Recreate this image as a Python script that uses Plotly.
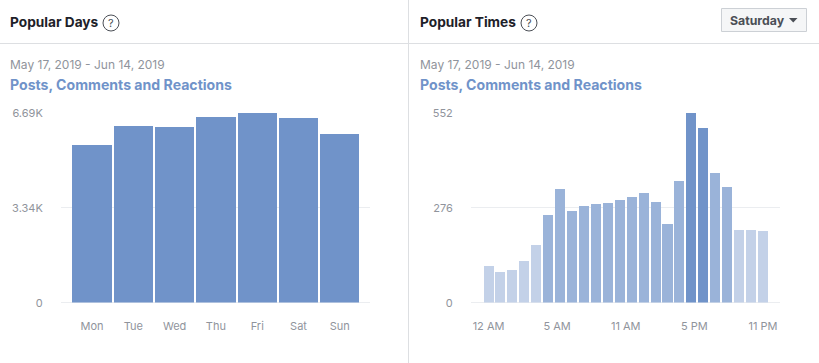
import plotly.graph_objects as go

W, H = 819, 363

days = ["Mon", "Tue", "Wed", "Thu", "Fri", "Sat", "Sun"]
day_values = [5550, 6240, 6190, 6540, 6690, 6530, 5960]
day_tick_vals = [0, 3340, 6690]
day_tick_text = ["0", "3.34K", "6.69K"]

hours = list(range(24))
hour_values = [106.5, 89, 95, 122, 168.5, 257, 331, 266, 283, 288, 290.5, 300,
               309, 320.5, 292.5, 230.5, 355, 552, 508, 379, 336, 211, 212, 209]
hour_tick_vals = [0, 5.75, 11.5, 17.25, 23]
hour_tick_text = ["12 AM", "5 AM", "11 AM", "5 PM", "11 PM"]
hour_y_tick_vals = [0, 276, 552]
hour_y_tick_text = ["0", "276", "552"]

DARK = "#7093c9"
MID = "#9ab3d9"
LIGHT = "#c3d1e8"
FONT = "Inter, Roboto, sans-serif"
GRID = "#ebedf0"
TICK = "#90949c"


def px(x):
    return x / W


def py(y):
    return 1 - y / H


def hour_color(v):
    share = v / max(hour_values)
    if share > 0.75:
        return DARK
    if share > 0.4:
        return MID
    return LIGHT


fig = go.Figure()
fig.add_trace(go.Bar(x=list(range(len(days))), y=day_values, marker_color=DARK,
                     marker_line_width=0, width=0.95, xaxis="x", yaxis="y",
                     hoverinfo="skip", showlegend=False))
fig.add_trace(go.Bar(x=hours, y=hour_values,
                     marker_color=[hour_color(v) for v in hour_values],
                     marker_line_width=0, width=0.84, xaxis="x2", yaxis="y2",
                     hoverinfo="skip", showlegend=False))

common_y = dict(showline=False, showgrid=True, gridcolor=GRID, gridwidth=1,
                zeroline=True, zerolinecolor=GRID, zerolinewidth=1, automargin=False,
                ticks="outside", ticklen=15, tickcolor="rgba(0,0,0,0)",
                tickfont=dict(family=FONT, size=11, color=TICK), tickmode="array",
                domain=[py(302.5), py(112.5)], ticklabelshift=1)
common_x = dict(showline=False, showgrid=False, zeroline=False, automargin=False,
                ticks="outside", ticklen=13, tickcolor="rgba(0,0,0,0)",
                tickfont=dict(family=FONT, size=11, color=TICK), tickmode="array")

fig.update_layout(
    template="none",
    width=W, height=H, autosize=False,
    margin=dict(l=0, r=0, t=0, b=0, pad=0),
    paper_bgcolor="white", plot_bgcolor="white",
    bargap=0,
    xaxis=dict(common_x, domain=[px(61), px(370)], range=[-0.75, 6.73], anchor="y",
               tickvals=list(range(len(days))), ticktext=days),
    yaxis=dict(common_y, range=[0, max(day_values)], anchor="x",
               tickvals=day_tick_vals, ticktext=day_tick_text),
    xaxis2=dict(common_x, domain=[px(471), px(780)], range=[-1.47, 24.43], anchor="y2",
                tickvals=hour_tick_vals, ticktext=hour_tick_text),
    yaxis2=dict(common_y, range=[0, max(hour_values)], anchor="x2",
                tickvals=hour_y_tick_vals, ticktext=hour_y_tick_text),
)


def text(x, y, s, size, color, bold=False, anchor="left"):
    fig.add_annotation(xref="paper", yref="paper", x=px(x), y=py(y), text=f"<b>{s}</b>" if bold else s,
                       showarrow=False, xanchor=anchor, yanchor="middle",
                       font=dict(family=FONT, size=size, color=color),
                       borderpad=0, borderwidth=0)


def shape(kind, x0, y0, x1, y1, **kw):
    fig.add_shape(type=kind, xref="paper", yref="paper", x0=px(x0), y0=py(y0), x1=px(x1), y1=py(y1), **kw)


BORDER = dict(color="#dddfe2", width=1)
shape("line", 0, 43.5, W, 43.5, line=BORDER)
shape("line", 408.5, 0, 408.5, H, line=BORDER)

text(10, 22, "Popular Days", 13.7, "#1d2129", bold=True)
text(420, 22, "Popular Times", 13.7, "#1d2129", bold=True)
text(10, 64, "May 17, 2019 - Jun 14, 2019", 12, TICK)
text(420, 64, "May 17, 2019 - Jun 14, 2019", 12, TICK)
text(10, 84.5, "Posts, Comments and Reactions", 14.1, "#7093c9", bold=True)
text(420, 84.5, "Posts, Comments and Reactions", 14.1, "#7093c9", bold=True)

for cx in (111, 529):
    shape("circle", cx - 8, 15, cx + 8, 31, line=dict(color="#4b4f56", width=1), fillcolor="white")
    text(cx, 23, "?", 11, "#4b4f56", anchor="center")

shape("rect", 721.5, 8.5, 806.5, 31.5, line=dict(color="#ccd0d5", width=1), fillcolor="#f5f6f7")
text(730, 20, "Saturday", 12.3, "#4b4f56", bold=True)
fig.add_shape(type="path", xref="paper", yref="paper",
              path=f"M {px(789)} {py(18)} L {px(797.5)} {py(18)} L {px(793.25)} {py(22.5)} Z",
              fillcolor="#4b4f56", line=dict(width=0))

fig.write_html("out.html", config={"displayModeBar": False},
               post_script="document.body.style.margin='0';")
